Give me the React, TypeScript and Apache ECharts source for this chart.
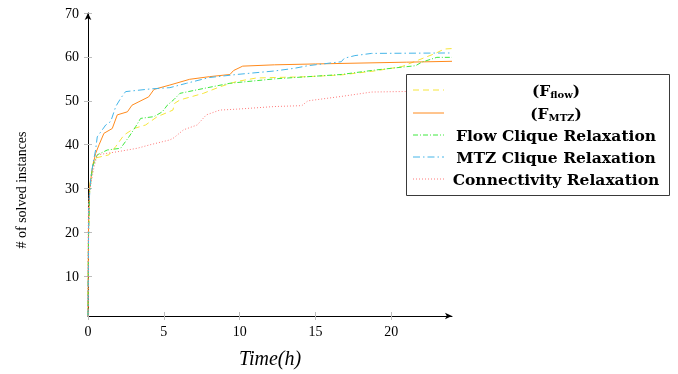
import React, { useEffect, useRef } from 'react';
import * as echarts from 'echarts';

const xTicks = [0, 5, 10, 15, 20];
const yTicks = [10, 20, 30, 40, 50, 60, 70];

const fFlow: [number, number][] = [
  [0, 1], [0.04, 22], [0.12, 31], [0.4, 36.9], [1.38, 37.7], [1.83, 39.6], [2.37, 42.2],
  [3.03, 43.7], [3.8, 44.5], [4.57, 46.4], [5.34, 47.5], [5.6, 47.9], [5.7, 49.4],
  [6.06, 50.2], [7.6, 51.7], [8.7, 53.2], [9.8, 54.4], [11.1, 55.2], [14.5, 55.5],
  [16.7, 55.9], [18.9, 56.8], [20.7, 57.8], [21.8, 59.3], [22.9, 60.8], [23.5, 61.8], [24, 61.9],
];
const fMTZ: [number, number][] = [
  [0, 1], [0.03, 20], [0.1, 30], [0.3, 35], [0.5, 38], [0.73, 40], [1.05, 42.6], [1.6, 43.7],
  [1.93, 46.8], [2.6, 47.5], [2.9, 49], [3.36, 49.8], [4.0, 50.9], [4.35, 52.6], [5.4, 53.6],
  [6.7, 54.9], [8.0, 55.5], [9.36, 56], [9.6, 56.9], [10.2, 57.9], [12.3, 58.2], [15, 58.4],
  [18, 58.6], [21, 58.8], [24, 59],
];
const flowClique: [number, number][] = [
  [0, 1], [0.03, 18], [0.1, 29], [0.3, 35], [0.61, 37.7], [1.27, 38.8], [2.15, 39.2],
  [2.7, 41.8], [3.14, 44.1], [3.47, 46], [4.35, 46.4], [4.9, 47.5], [5.23, 49], [5.67, 50.3],
  [6.06, 51.7], [7.6, 52.8], [9.36, 54], [12.3, 55], [14.5, 55.5], [16.7, 56], [18.9, 57],
  [21.6, 58], [22, 58.8], [23, 59.9], [24, 59.9],
];
const mtzClique: [number, number][] = [
  [0, 1], [0.05, 26], [0.2, 33], [0.4, 37], [0.5, 38.8], [0.61, 41.8], [1.17, 44.5],
  [1.5, 45.3], [1.83, 48.7], [2.16, 50.6], [2.48, 52.1], [4.1, 52.7], [5.4, 53], [6.5, 54],
  [8, 55.3], [9.8, 56], [12.3, 56.8], [13.6, 57.4], [14.5, 58], [16.7, 58.9], [16.9, 59.7],
  [17.6, 60.3], [18.7, 60.8], [24, 60.9],
];
const connectivity: [number, number][] = [
  [0, 1], [0.02, 20], [0.03, 26], [0.13, 30], [0.4, 35], [0.61, 37.7], [1.93, 38.4],
  [3.25, 39.2], [4.1, 40], [5.4, 41.1], [5.67, 41.6], [6.3, 43.4], [7.2, 44.5], [7.8, 46.8],
  [8.7, 47.9], [9.8, 48.1], [12.3, 48.7], [14.1, 48.9], [14.5, 50], [16.7, 51], [18.7, 52],
  [24, 52.3],
];

const seriesNames = ['(F_flow)', '(F_MTZ)', 'Flow Clique Relaxation', 'MTZ Clique Relaxation', 'Connectivity Relaxation'];
const seriesData = [fFlow, fMTZ, flowClique, mtzClique, connectivity];
const colors = ['#f6e53a', '#ff8a1c', '#3fe83f', '#45b5e8', '#ff7a7a'];
const dashes: (number[] | string)[] = [[6, 4], 'solid', [5, 2, 1, 2], [7, 3, 1.5, 3], [1, 2]];

const serif = 'Liberation Serif';
const boldSerif = 'DejaVu Serif';

export default function App() {
  const ref = useRef<HTMLDivElement>(null);
  useEffect(() => {
    const chart = echarts.init(ref.current!, null, { renderer: 'svg' });
    const tickStyle = { color: '#bdbdbd', width: 1 };
    const legendX0 = 413;
    const legendX1 = 444;
    const legendYs = [90, 113, 135, 157, 179];
    const legendTexts: any[] = [];
    const legendLines: any[] = [];
    seriesNames.forEach((name, i) => {
      legendLines.push({
        type: 'line',
        z: 101,
        shape: { x1: legendX0, y1: legendYs[i], x2: legendX1, y2: legendYs[i] },
        style: { stroke: colors[i], lineWidth: 1, lineDash: dashes[i] === 'solid' ? null : dashes[i] },
      });
      let text = `{b|${name}}`;
      if (i === 0) text = '{b|(F}{s|flow}{b|)}';
      if (i === 1) text = '{b|(F}{s|MTZ}{b|)}';
      legendTexts.push({
        type: 'text',
        z: 101,
        x: 556,
        y: legendYs[i],
        style: {
          text,
          align: 'center',
          verticalAlign: 'middle',
          rich: {
            b: { fontFamily: boldSerif, fontWeight: 'bold', fontSize: 15.5, fill: '#000', lineHeight: 19, verticalAlign: 'middle' },
            s: { fontFamily: boldSerif, fontWeight: 'bold', fontSize: 10, fill: '#000', lineHeight: 19, verticalAlign: 'bottom' },
          },
        },
      });
    });

    chart.setOption({
      animation: false,
      grid: { left: 88, right: 226, top: 13, bottom: 58 },
      xAxis: [
        {
          type: 'value', min: 0, max: 24, position: 'bottom',
          axisLine: { show: true, onZero: false, lineStyle: { color: '#000', width: 1 }, symbol: ['none', 'arrow'], symbolSize: [5, 7] },
          axisTick: { show: true, length: 4, lineStyle: tickStyle, customValues: xTicks },
          axisLabel: { show: true, customValues: xTicks, fontFamily: serif, fontSize: 14, color: '#000', margin: 8 },
          splitLine: { show: false },
        },
        {
          type: 'value', min: 0, max: 24, position: 'bottom',
          axisLine: { show: false, onZero: false },
          axisTick: { show: true, inside: true, length: 4, lineStyle: tickStyle, customValues: xTicks },
          axisLabel: { show: false },
          splitLine: { show: false },
        },
      ],
      yAxis: [
        {
          type: 'value', min: 1, max: 70, position: 'left',
          axisLine: { show: true, onZero: false, lineStyle: { color: '#000', width: 1 }, symbol: ['none', 'arrow'], symbolSize: [5, 7] },
          axisTick: { show: true, length: 4, lineStyle: tickStyle, customValues: yTicks },
          axisLabel: { show: true, customValues: yTicks, fontFamily: serif, fontSize: 14, color: '#000', margin: 9 },
          splitLine: { show: false },
        },
        {
          type: 'value', min: 1, max: 70, position: 'left',
          axisLine: { show: false, onZero: false },
          axisTick: { show: true, inside: true, length: 4, lineStyle: tickStyle, customValues: yTicks },
          axisLabel: { show: false },
          splitLine: { show: false },
        },
      ],
      series: seriesData.map((d, i) => ({
        name: seriesNames[i],
        type: 'line',
        data: d,
        showSymbol: false,
        symbol: 'none',
        smooth: false,
        xAxisIndex: 0,
        yAxisIndex: 0,
        lineStyle: { color: colors[i], width: 1, type: dashes[i] },
        z: 2 + i,
      })),
      graphic: [
        {
          type: 'rect', z: 100,
          shape: { x: 406.5, y: 74.5, width: 263, height: 121 },
          style: { fill: '#fff', stroke: '#3a3a3a', lineWidth: 1 },
        },
        ...legendLines,
        ...legendTexts,
        {
          type: 'text', z: 100, x: 270, y: 358,
          style: { text: 'Time(h)', fontFamily: serif, fontStyle: 'italic', fontSize: 20, fill: '#000', align: 'center', verticalAlign: 'middle' },
        },
        {
          type: 'text', z: 100, x: 21, y: 190, rotation: Math.PI / 2,
          style: { text: '# of solved instances', fontFamily: serif, fontSize: 14, fill: '#000', align: 'center', verticalAlign: 'middle' },
        },
      ],
    });
    return () => chart.dispose();
  }, []);
  return <div ref={ref} style={{ position: 'fixed', left: 0, top: 0, width: 678, height: 374 }} />;
}
